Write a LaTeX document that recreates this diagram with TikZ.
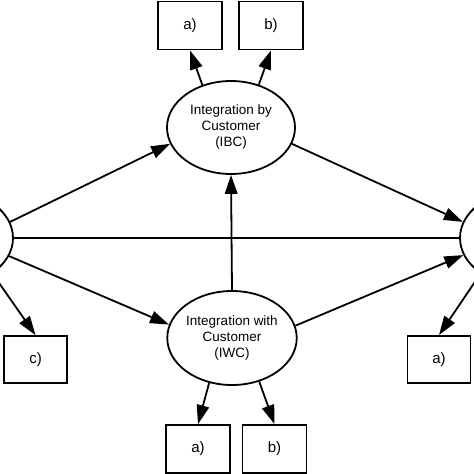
\documentclass[tikz,border=0pt]{standalone}
\usepackage{fontspec}
\setmainfont{Liberation Sans}
\usetikzlibrary{shapes.geometric,arrows.meta}
\begin{document}
\begin{tikzpicture}[x=1pt,y=-1pt,
 ell/.style={draw,ellipse,line width=1.8pt,inner sep=0pt,minimum width=128pt,minimum height=93pt,align=center,font=\fontsize{13.5}{16}\selectfont},
 box/.style={draw,rectangle,line width=1.8pt,minimum width=64pt,minimum height=48pt,inner sep=0pt,font=\fontsize{15}{17}\selectfont},
 arr/.style={line width=1.8pt,-{Triangle[length=19pt,width=12.5pt]}},
 ln/.style={line width=1.8pt}]
\useasboundingbox (0,0) rectangle (474,474);
% ellipses
\node[ell] (IBC) at (231,127.5) {Integration by\\Customer\\(IBC)};
\node[ell,minimum width=127pt,minimum height=94pt] (IWC) at (232,338) {Integration with\\Customer\\(IWC)};
\node[ell,minimum width=126pt,minimum height=94pt] (L) at (-50,238) {};
\node[ell,minimum width=126pt,minimum height=94pt] (R) at (523,238) {};
% boxes
\node[box] (tA) at (190,25.5) {a)};
\node[box] (tB) at (271,25.5) {b)};
\node[box,minimum width=63pt,minimum height=47pt] (c) at (35.5,359.5) {c)};
\node[box,minimum width=63pt,minimum height=47pt] (rA) at (439,359.5) {a)};
\node[box] (bA) at (198,449) {a)};
\node[box] (bB) at (274.5,449) {b)};
% connectors
\draw[arr] (IBC.124) -- (tA.south);
\draw[arr] (IBC.57) -- (tB.south);
\draw[arr] (L.15) -- (IBC.195);
\draw[arr] (IBC.-15) -- (R.165);
\draw[arr] (L.-17.6) -- (IWC.168);
\draw[arr] (IWC.11.6) -- (R.196);
\draw[arr] (L.-40) -- (c.north);
\draw[arr] (R.220) -- (rA.north);
\draw[arr] (IWC.243) -- (bA.north);
\draw[arr] (IWC.302) -- (bB.north);
\draw[arr] (IWC.north) -- (IBC.south);
\draw[ln] (L.east) -- (R.west);
\end{tikzpicture}
\end{document}
